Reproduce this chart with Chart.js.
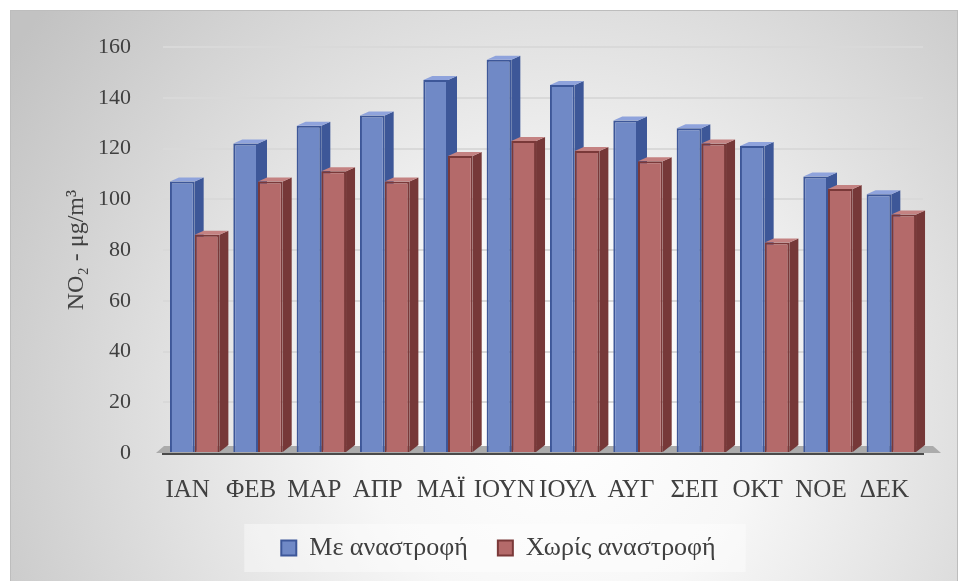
<!DOCTYPE html>
<html>
<head>
<meta charset="utf-8">
<script src="https://cdn.jsdelivr.net/npm/chart.js@4.4.1/dist/chart.umd.min.js"></script>
<style>
  html, body { margin: 0; padding: 0; background: #fff; }
  #wrap { width: 961px; height: 581px; }
</style>
</head>
<body>
<div id="wrap"><canvas id="no2Chart"></canvas></div>
<script>
// Μηνιαίες τιμές NO2 (μg/m3), διαβασμένες από το γράφημα
const months = ['ΙΑΝ', 'ΦΕΒ', 'ΜΑΡ', 'ΑΠΡ', 'ΜΑΪ', 'ΙΟΥΝ', 'ΙΟΥΛ', 'ΑΥΓ', 'ΣΕΠ', 'ΟΚΤ', 'ΝΟΕ', 'ΔΕΚ'];
const withInversion = [107, 122, 129, 133, 147, 155, 145, 131, 128, 121, 109, 102];
const withoutInversion = [86, 107, 111, 107, 117, 123, 119, 115, 122, 83, 104, 94];
const yMin = 0, yMax = 160, yStep = 20;

const FONT = '"Liberation Serif", "DejaVu Serif", serif';
const TEXT = '#404040';
const LEGEND_SHIFT = 32;

// background panel + legend backdrop
const backdrop = {
    id: 'backdrop',
    afterLayout(chart) {
        const lg = chart.legend;
        lg.left += LEGEND_SHIFT;
        lg.right += LEGEND_SHIFT;
        lg.legendHitBoxes.forEach(b => { b.left += LEGEND_SHIFT; });
    },
    beforeDraw(chart) {
        const { ctx, width, height } = chart;
        ctx.save();
        ctx.fillStyle = '#fff';
        ctx.fillRect(0, 0, width, height);
        const g = ctx.createRadialGradient(560, 420, 0, 560, 420, 660);
        g.addColorStop(0, '#ffffff');
        g.addColorStop(0.3, '#f7f7f7');
        g.addColorStop(1, '#c2c2c2');
        ctx.fillStyle = g;
        ctx.fillRect(10.5, 10.5, width - 14, height);
        ctx.strokeStyle = '#bdbdbd';
        ctx.lineWidth = 1;
        ctx.strokeRect(10.5, 10.5, width - 14, height);

        const boxes = chart.legend && chart.legend.legendHitBoxes;
        if (boxes && boxes.length) {
            const l = Math.min(...boxes.map(b => b.left)) - 37;
            const r = Math.max(...boxes.map(b => b.left + b.width)) + 30;
            const cy = boxes[0].top + boxes[0].height / 2;
            ctx.fillStyle = 'rgba(255,255,255,0.4)';
            ctx.fillRect(l, cy - 24, r - l, 48);
        }
        ctx.restore();
    },
    beforeDatasetsDraw(chart) {
        // floor and bar depth faces, drawn behind the front faces
        const { ctx, chartArea } = chart;
        ctx.save();
        ctx.fillStyle = '#ababab';
        ctx.beginPath();
        ctx.moveTo(chartArea.left - 7, chartArea.bottom);
        ctx.lineTo(chartArea.left + 1, chartArea.bottom - 7);
        ctx.lineTo(chartArea.right + 10, chartArea.bottom - 7);
        ctx.lineTo(chartArea.right + 18, chartArea.bottom);
        ctx.closePath();
        ctx.fill();

        const d = 9, h = 4;
        const faces = [['#3d5798', '#8fa3dc'], ['#763838', '#c48282']];
        chart.data.datasets.forEach((ds, i) => {
            const meta = chart.getDatasetMeta(i);
            meta.data.forEach(bar => {
                const x0 = bar.x - bar.width / 2, x1 = bar.x + bar.width / 2;
                ctx.fillStyle = faces[i][0];
                ctx.beginPath();
                ctx.moveTo(x1, bar.y);
                ctx.lineTo(x1 + d, bar.y - h);
                ctx.lineTo(x1 + d, bar.base - 7);
                ctx.lineTo(x1, bar.base);
                ctx.closePath();
                ctx.fill();
                ctx.fillStyle = faces[i][1];
                ctx.beginPath();
                ctx.moveTo(x0, bar.y);
                ctx.lineTo(x0 + d, bar.y - h);
                ctx.lineTo(x1 + d, bar.y - h);
                ctx.lineTo(x1, bar.y);
                ctx.closePath();
                ctx.fill();
            });
        });
        ctx.restore();
    }
};

new Chart(document.getElementById('no2Chart'), {
    type: 'bar',
    data: {
        labels: months,
        datasets: [{
            label: 'Με αναστροφή',
            data: withInversion,
            backgroundColor: '#7089c6',
            borderColor: '#3d5799',
            borderWidth: 2,
            categoryPercentage: 0.78,
            barPercentage: 1.0
        }, {
            label: 'Χωρίς αναστροφή',
            data: withoutInversion,
            backgroundColor: '#b46a6a',
            borderColor: '#7a3939',
            borderWidth: 2,
            categoryPercentage: 0.78,
            barPercentage: 1.0
        }]
    },
    options: {
        responsive: true,
        maintainAspectRatio: false,
        animation: false,
        layout: { padding: { top: 47, left: 10, right: 38, bottom: 10 } },
        plugins: {
            legend: {
                position: 'bottom',
                labels: {
                    boxWidth: 15,
                    boxHeight: 15,
                    padding: 30,
                    color: TEXT,
                    font: { family: FONT, size: 26 }
                }
            },
            tooltip: { enabled: false }
        },
        scales: {
            x: {
                grid: { display: false, drawTicks: false },
                border: { display: true, color: '#4a4a4a', width: 3 },
                ticks: {
                    autoSkip: false,
                    maxRotation: 0,
                    padding: 22,
                    labelOffset: -7,
                    color: TEXT,
                    font: { family: FONT, size: 25 }
                },
                afterFit: (scale) => { scale.height = 52; }
            },
            y: {
                min: yMin,
                max: yMax,
                grid: { color: '#d9d9d9', lineWidth: 2, drawTicks: false },
                border: { display: false },
                ticks: {
                    stepSize: yStep,
                    padding: 32,
                    color: TEXT,
                    font: { family: FONT, size: 22 }
                },
                title: {
                    display: true,
                    text: 'NO₂ - μg/m³',
                    color: TEXT,
                    padding: { top: 52, bottom: 0 },
                    font: { family: FONT, size: 24 }
                },
                afterFit: (scale) => { scale.width = 153; }
            }
        }
    },
    plugins: [backdrop]
});
</script>
</body>
</html>
